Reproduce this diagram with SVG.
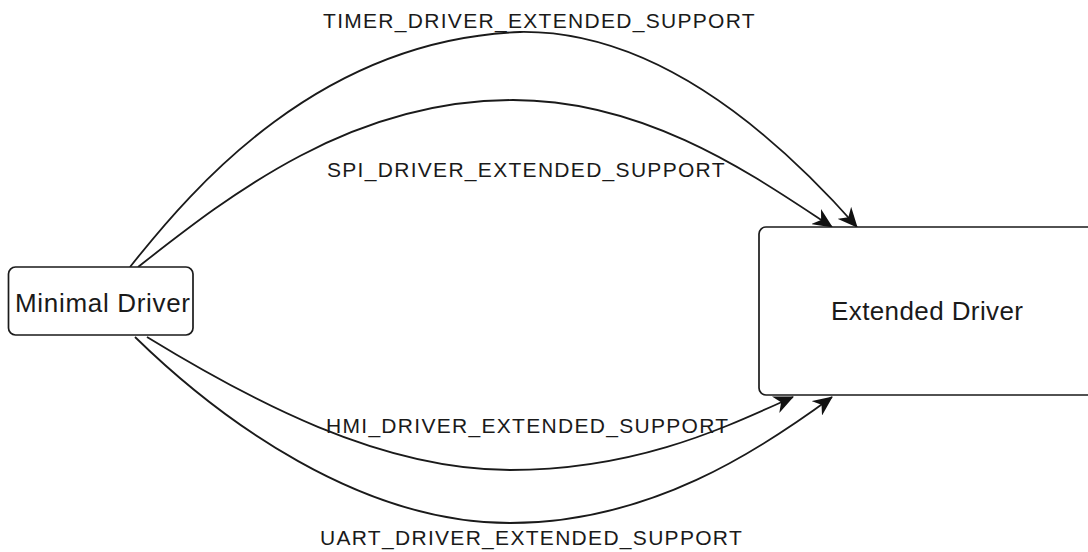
<svg xmlns="http://www.w3.org/2000/svg" width="1088" height="552" viewBox="0 0 1088 552">
<style>
.node{fill:#ffffff;stroke:#1a1a1a;stroke-width:1.7}
.ntext{font-family:"Liberation Sans",Arial,sans-serif;font-size:26px;fill:#1a1a1a}
.edge{fill:none;stroke:#1a1a1a;stroke-width:1.8}
.lbl{font-family:"Liberation Sans",Arial,sans-serif;font-size:21px;letter-spacing:1.3px;fill:#1a1a1a}
</style>
<defs>
<marker id="arr" viewBox="0 0 20 18" refX="19" refY="9" markerWidth="20" markerHeight="18" markerUnits="userSpaceOnUse" orient="auto">
<path d="M0,0 L20,9 L0,18 L6,9 Z" fill="#111111"/>
</marker>
</defs>
<rect width="1088" height="552" fill="#ffffff"/>
<g id="connectors">
<g id="edge-timer">
<path class="edge" d="M130,267 C195,185 320,40 520,32 C660,30 780,140 857,227" marker-end="url(#arr)"/>
<text class="lbl" x="323" y="28">TIMER_DRIVER_EXTENDED_SUPPORT</text>
</g>
<g id="edge-spi">
<path class="edge" d="M138,267 C230,195 350,100 513,100 C650,100 760,180 832,227" marker-end="url(#arr)"/>
<text class="lbl" x="327" y="177">SPI_DRIVER_EXTENDED_SUPPORT</text>
</g>
<g id="edge-hmi">
<path class="edge" d="M147,337 C250,400 380,470 510,470 C640,470 730,425 793,397" marker-end="url(#arr)"/>
<text class="lbl" x="326" y="433">HMI_DRIVER_EXTENDED_SUPPORT</text>
</g>
<g id="edge-uart">
<path class="edge" d="M135,337 C220,420 360,523 510,523 C650,523 760,450 832,397" marker-end="url(#arr)"/>
<text class="lbl" x="320" y="545">UART_DRIVER_EXTENDED_SUPPORT</text>
</g>
</g>
<g id="node-minimal">
<rect class="node" x="8.5" y="267" width="184.5" height="68" rx="7"/>
<text class="ntext" x="15" y="312" textLength="175" lengthAdjust="spacing">Minimal Driver</text>
</g>
<g id="node-extended">
<rect class="node" x="759" y="227" width="340" height="168" rx="7"/>
<text class="ntext" x="831" y="320" textLength="192" lengthAdjust="spacing">Extended Driver</text>
</g>
</svg>
